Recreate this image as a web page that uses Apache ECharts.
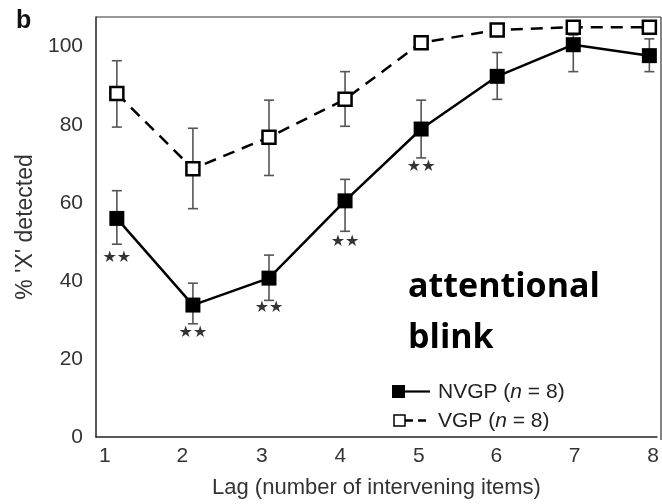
<!DOCTYPE html>
<html>
<head>
<meta charset="utf-8">
<script src="https://cdn.jsdelivr.net/npm/echarts@6/dist/echarts.min.js"></script>
<style>
  html, body { margin: 0; padding: 0; background: #fff; }
  #main { width: 662px; height: 504px; }
</style>
</head>
<body>
<div id="main"></div>
<script>
// lag categories and group means / error bar limits (% 'X' detected)
var lags = [1, 2, 3, 4, 5, 6, 7, 8];
var nvgp = [56, 33.8, 40.7, 60.5, 78.9, 92.4, 100.5, 97.7];
var nvgpHigh = [63.1, 39.4, 46.6, 66, 86.3, 98.5, 103, 102];
var nvgpLow = [49.4, 29, 35, 52.7, 71.5, 86.5, 93.6, 93.6];
var vgp = [88, 68.7, 76.8, 86.5, 101, 104.3, 105, 105];
var vgpHigh = [96.4, 79.1, 86.3, 93.6, 101, 104.3, 105, 105];
var vgpLow = [79.4, 58.5, 67, 79.6, 101, 104.3, 105, 105];
// where the "**" marks sit (lags 1-5)
var starLags = [1, 2, 3, 4, 5];
var starY = [45.8, 26.7, 33.1, 50.1, 69.2];
var yTicks = [0, 20, 40, 60, 80, 100];
// x tick labels sit a little off the data positions in the original figure
var xLabelPos = [0.843, 1.862, 2.906, 3.938, 4.969, 5.987, 7.018, 8.05];

var chart = echarts.init(document.getElementById('main'));

function errData(low, high) {
  var out = [];
  for (var i = 0; i < lags.length; i++) {
    out.push([lags[i], low[i], high[i]]);
  }
  return out;
}

function renderErr(params, api) {
  var x = api.value(0);
  var lo = api.coord([x, api.value(1)]);
  var hi = api.coord([x, api.value(2)]);
  var w = 5;
  var st = { stroke: '#555', lineWidth: 1.6 };
  return {
    type: 'group',
    children: [
      { type: 'line', shape: { x1: lo[0], y1: lo[1], x2: hi[0], y2: hi[1] }, style: st },
      { type: 'line', shape: { x1: lo[0] - w, y1: lo[1], x2: lo[0] + w, y2: lo[1] }, style: st },
      { type: 'line', shape: { x1: hi[0] - w, y1: hi[1], x2: hi[0] + w, y2: hi[1] }, style: st }
    ]
  };
}

function renderStar(params, api) {
  var p = api.coord([api.value(0), api.value(1)]);
  return {
    type: 'text',
    x: p[0],
    y: p[1],
    style: {
      text: '★★',
      font: '16px DejaVu Sans',
      fill: '#333',
      align: 'center',
      verticalAlign: 'middle'
    }
  };
}

var stars = [];
for (var i = 0; i < starLags.length; i++) stars.push([starLags[i], starY[i]]);

var tickFont = { color: '#333', fontSize: 21, fontFamily: 'Liberation Sans' };
var legendRich = {
  n: { font: 'italic 21px Liberation Sans', fill: '#222' },
  t: { font: '21px Liberation Sans', fill: '#222' }
};

var option = {
  backgroundColor: '#fff',
  animation: false,
  grid: { left: 96, top: 17, right: 1, bottom: 64 },
  xAxis: {
    type: 'value',
    min: 0.726,
    max: 8.1,
    axisLine: { lineStyle: { color: '#222', width: 1.5 } },
    axisTick: { show: false },
    splitLine: { show: false },
    axisLabel: {
      customValues: xLabelPos,
      formatter: function (v) { return String(Math.round(v)); },
      color: tickFont.color,
      fontSize: tickFont.fontSize,
      fontFamily: tickFont.fontFamily,
      margin: 9
    },
    name: 'Lag (number of intervening items)',
    nameLocation: 'middle',
    nameGap: 40,
    nameTextStyle: { color: '#333', fontSize: 22, fontFamily: 'Liberation Sans' }
  },
  yAxis: {
    type: 'value',
    min: 0,
    max: 107.6,
    axisLine: { show: true, lineStyle: { color: '#222', width: 1.5 } },
    axisTick: { show: false },
    splitLine: { show: false },
    axisLabel: {
      customValues: yTicks,
      color: tickFont.color,
      fontSize: tickFont.fontSize,
      fontFamily: tickFont.fontFamily,
      margin: 13
    },
    name: "% 'X' detected",
    nameLocation: 'middle',
    nameGap: 58,
    nameTextStyle: { color: '#333', fontSize: 23, fontFamily: 'Liberation Sans' }
  },
  graphic: [
    // top and right frame lines
    { type: 'line', shape: { x1: 96, y1: 17, x2: 661, y2: 17 }, style: { stroke: '#333', lineWidth: 1.2 }, z: 1 },
    { type: 'line', shape: { x1: 661, y1: 17, x2: 661, y2: 440 }, style: { stroke: '#333', lineWidth: 1.2 }, z: 1 },
    { type: 'text', x: 16, y: 21, style: { text: 'b', font: 'bold 25px Liberation Sans', fill: '#111', verticalAlign: 'middle' } },
    { type: 'text', x: 408, y: 287, style: { text: 'attentional', font: 'bold 34px Open Sans', fill: '#000', verticalAlign: 'middle' } },
    { type: 'text', x: 408, y: 338, style: { text: 'blink', font: 'bold 34px Open Sans', fill: '#000', verticalAlign: 'middle' } },
    // legend
    { type: 'rect', shape: { x: 392, y: 385, width: 13, height: 13 }, style: { fill: '#000' }, z: 10 },
    { type: 'line', shape: { x1: 405, y1: 391.5, x2: 430, y2: 391.5 }, style: { stroke: '#000', lineWidth: 2.2 }, z: 10 },
    { type: 'text', x: 438, y: 392, style: { rich: legendRich, text: '{t|NVGP (}{n|n}{t| = 8)}', verticalAlign: 'middle' }, z: 10 },
    { type: 'rect', shape: { x: 394, y: 415, width: 11, height: 11 }, style: { fill: '#fff', stroke: '#000', lineWidth: 1.5 }, z: 10 },
    { type: 'line', shape: { x1: 405, y1: 420.5, x2: 430, y2: 420.5 }, style: { stroke: '#000', lineWidth: 2.4, lineDash: [8, 5] }, z: 10 },
    { type: 'text', x: 438, y: 421, style: { rich: legendRich, text: '{t|VGP (}{n|n}{t| = 8)}', verticalAlign: 'middle' }, z: 10 }
  ],
  series: [
    {
      name: 'VGP err',
      type: 'custom',
      renderItem: renderErr,
      data: errData(vgpLow, vgpHigh),
      z: 2
    },
    {
      name: 'NVGP err',
      type: 'custom',
      renderItem: renderErr,
      data: errData(nvgpLow, nvgpHigh),
      z: 2
    },
    {
      name: 'VGP (n = 8)',
      type: 'line',
      data: lags.map(function (l, i) { return [l, vgp[i]]; }),
      symbol: 'rect',
      symbolSize: 13,
      lineStyle: { color: '#000', width: 2.5, type: [12, 8] },
      itemStyle: { color: '#fff', borderColor: '#000', borderWidth: 2.5 },
      z: 4
    },
    {
      name: 'NVGP (n = 8)',
      type: 'line',
      data: lags.map(function (l, i) { return [l, nvgp[i]]; }),
      symbol: 'rect',
      symbolSize: 15,
      lineStyle: { color: '#000', width: 2.5 },
      itemStyle: { color: '#000', borderColor: '#000', borderWidth: 0 },
      z: 5
    },
    {
      name: 'stars',
      type: 'custom',
      renderItem: renderStar,
      data: stars,
      silent: true,
      z: 6
    }
  ]
};

chart.setOption(option);
</script>
</body>
</html>
